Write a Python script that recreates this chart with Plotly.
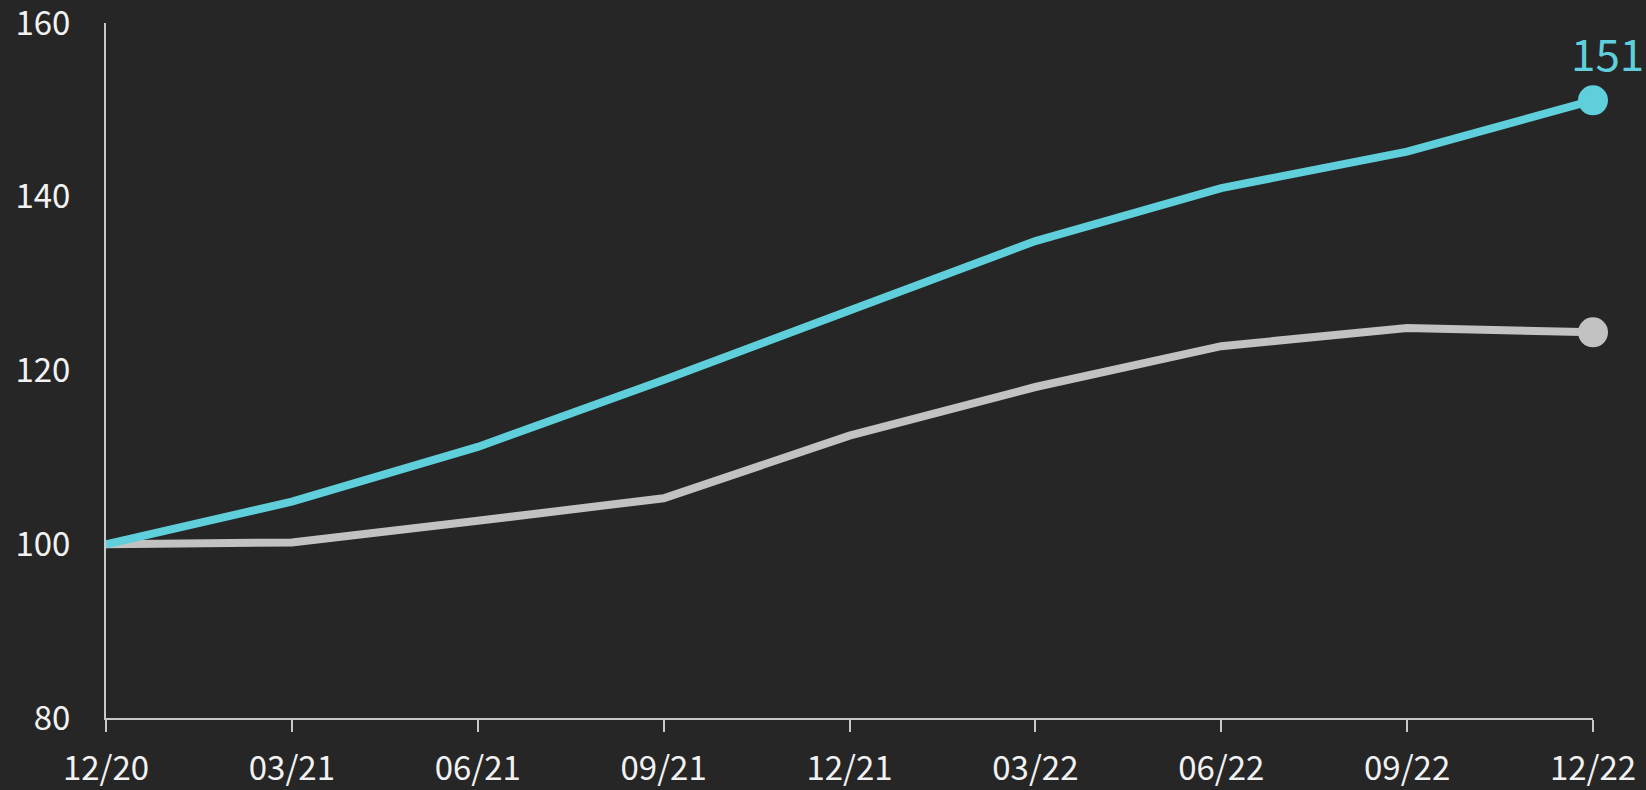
import plotly.graph_objects as go

categories = ["12/20", "03/21", "06/21", "09/21", "12/21", "03/22", "06/22", "09/22", "12/22"]
series_teal = [100, 104.9, 111.2, 118.9, 126.9, 134.9, 141.0, 145.2, 151.1]
series_grey = [100, 100.2, 102.7, 105.3, 112.5, 118.1, 122.8, 124.9, 124.4]
y_ticks = [80, 100, 120, 140, 160]
end_label = "151"

TEAL = "#5ECFDB"
GREY = "#C2C2C2"
BG = "#262626"
AXIS = "#C8C8C8"
FONT = "Noto Sans CJK JP"

x = list(range(len(categories)))

fig = go.Figure()
for vals, col in [(series_grey, GREY), (series_teal, TEAL)]:
    fig.add_trace(go.Scatter(
        x=x, y=vals, mode="lines",
        line=dict(color=col, width=8),
        hoverinfo="skip", cliponaxis=False, showlegend=False,
    ))
    fig.add_trace(go.Scatter(
        x=[x[-1]], y=[vals[-1]], mode="markers",
        marker=dict(color=col, size=30, line=dict(width=0)),
        hoverinfo="skip", cliponaxis=False, showlegend=False,
    ))

fig.add_annotation(
    x=x[-1], y=series_teal[-1], text=end_label, showarrow=False,
    xanchor="center", yanchor="middle", xshift=14, yshift=48,
    font=dict(family=FONT, size=44, color=TEAL),
)

fig.update_layout(
    width=1646, height=790,
    paper_bgcolor=BG, plot_bgcolor=BG,
    margin=dict(l=106, r=53, t=23, b=72, autoexpand=False),
    font=dict(family=FONT, size=33, color="#F2F2F2"),
    xaxis=dict(
        range=[0, 8], tickvals=x, ticktext=categories,
        showgrid=False, zeroline=False, automargin=False,
        showline=True, linecolor=AXIS, linewidth=2,
        ticks="outside", ticklen=12, tickwidth=2, tickcolor=AXIS,
        ticklabelstandoff=8,
    ),
    yaxis=dict(
        range=[80, 160], tickvals=y_ticks,
        showgrid=False, zeroline=False, automargin=False,
        showline=True, linecolor=AXIS, linewidth=2,
        ticks="", ticklabelstandoff=27, ticklabeloverflow="allow",
    ),
)

fig.write_html(
    "out.html",
    config={"displayModeBar": False},
    post_script="document.body.style.margin='0';document.body.style.background='#262626';",
)
